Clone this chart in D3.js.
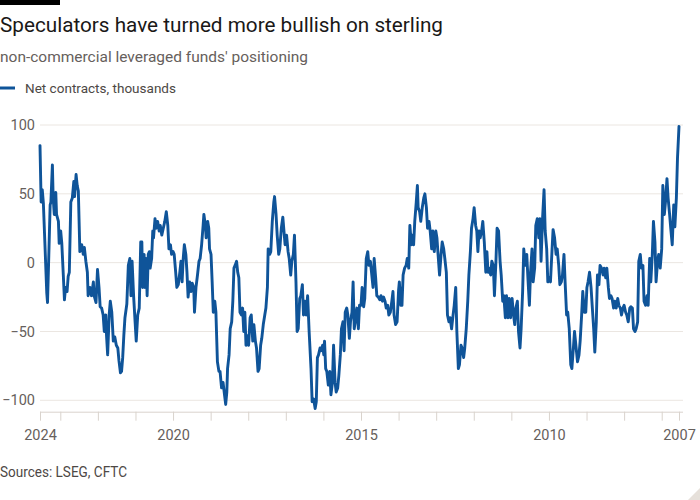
<!DOCTYPE html>
<html>
<head>
<meta charset="utf-8">
<script src="https://cdn.jsdelivr.net/npm/d3@7"></script>
<style>
  html, body { margin: 0; padding: 0; background: #ffffff; }
  svg { display: block; font-family: Roboto, "Noto Sans", sans-serif; }
</style>
</head>
<body>
<svg id="chart" width="700" height="500"></svg>
<script>
// ---- data (decimal years, reversed time axis) ----
const dates = [
  2023.54,2023.51,2023.48,2023.45,2023.36,2023.34,2023.30,2023.27,2023.25,2023.21,
  2023.19,2023.16,2023.12,2023.10,2023.05,2023.03,2022.99,2022.96,2022.92,2022.89,
  2022.86,2022.82,2022.79,2022.76,2022.72,2022.68,2022.64,2022.62,2022.58,2022.55,
  2022.52,2022.48,2022.43,2022.39,2022.36,2022.32,2022.28,2022.26,2022.21,2022.17,
  2022.12,2022.10,2022.05,2022.01,2021.97,2021.94,2021.90,2021.86,2021.83,2021.79,
  2021.77,2021.74,2021.70,2021.67,2021.63,2021.59,2021.55,2021.51,2021.47,2021.44,
  2021.40,2021.37,2021.34,2021.31,2021.28,2021.23,2021.19,2021.15,2021.12,2021.09,
  2021.05,2021.01,2020.98,2020.94,2020.90,2020.86,2020.83,2020.81,2020.77,2020.75,
  2020.72,2020.69,2020.66,2020.63,2020.61,2020.57,2020.54,2020.52,2020.48,2020.45,
  2020.41,2020.37,2020.34,2020.30,2020.26,2020.22,2020.18,2020.14,2020.11,2020.07,
  2020.04,2020.00,2019.97,2019.93,2019.90,2019.86,2019.82,2019.79,2019.76,2019.73,
  2019.70,2019.66,2019.63,2019.60,2019.56,2019.52,2019.49,2019.45,2019.43,2019.39,
  2019.35,2019.31,2019.28,2019.24,2019.20,2019.18,2019.14,2019.12,2019.08,2019.05,
  2019.03,2018.99,2018.96,2018.93,2018.89,2018.86,2018.82,2018.78,2018.75,2018.71,
  2018.67,2018.64,2018.60,2018.57,2018.55,2018.51,2018.48,2018.44,2018.41,2018.38,
  2018.35,2018.31,2018.28,2018.25,2018.22,2018.18,2018.15,2018.12,2018.09,2018.06,
  2018.03,2017.99,2017.95,2017.92,2017.88,2017.85,2017.81,2017.78,2017.74,2017.71,
  2017.67,2017.64,2017.60,2017.56,2017.53,2017.49,2017.47,2017.43,2017.40,2017.36,
  2017.32,2017.30,2017.26,2017.23,2017.19,2017.16,2017.12,2017.08,2017.05,2017.02,
  2016.98,2016.94,2016.91,2016.87,2016.84,2016.80,2016.77,2016.73,2016.70,2016.67,
  2016.63,2016.60,2016.56,2016.53,2016.49,2016.46,2016.42,2016.38,2016.33,2016.30,
  2016.26,2016.22,2016.19,2016.16,2016.13,2016.09,2016.06,2016.02,2015.99,2015.97,
  2015.94,2015.91,2015.87,2015.83,2015.80,2015.76,2015.73,2015.69,2015.66,2015.62,
  2015.59,2015.55,2015.52,2015.48,2015.45,2015.42,2015.38,2015.35,2015.31,2015.28,
  2015.24,2015.21,2015.18,2015.14,2015.11,2015.07,2015.04,2015.00,2014.97,2014.93,
  2014.90,2014.86,2014.82,2014.79,2014.75,2014.72,2014.68,2014.65,2014.61,2014.58,
  2014.54,2014.50,2014.47,2014.43,2014.40,2014.36,2014.33,2014.29,2014.26,2014.22,
  2014.18,2014.15,2014.12,2014.08,2014.04,2014.00,2013.98,2013.94,2013.91,2013.88,
  2013.84,2013.80,2013.77,2013.73,2013.70,2013.66,2013.64,2013.60,2013.57,2013.53,
  2013.50,2013.48,2013.44,2013.41,2013.37,2013.33,2013.30,2013.26,2013.23,2013.19,
  2013.16,2013.12,2013.09,2013.05,2013.01,2012.98,2012.95,2012.91,2012.87,2012.84,
  2012.80,2012.77,2012.73,2012.70,2012.66,2012.63,2012.59,2012.55,2012.52,2012.48,
  2012.45,2012.41,2012.38,2012.34,2012.31,2012.27,2012.24,2012.20,2012.16,2012.13,
  2012.09,2012.06,2012.02,2011.99,2011.95,2011.92,2011.89,2011.86,2011.83,2011.79,
  2011.76,2011.72,2011.68,2011.65,2011.62,2011.59,2011.55,2011.52,2011.48,2011.45,
  2011.41,2011.38,2011.34,2011.30,2011.27,2011.23,2011.20,2011.16,2011.13,2011.09,
  2011.06,2011.02,2010.98,2010.95,2010.91,2010.88,2010.84,2010.81,2010.77,2010.74,
  2010.70,2010.67,2010.63,2010.59,2010.56,2010.52,2010.49,2010.45,2010.42,2010.38,
  2010.35,2010.31,2010.27,2010.24,2010.21,2010.17,2010.13,2010.10,2010.06,2010.03,
  2009.99,2009.96,2009.92,2009.89,2009.85,2009.81,2009.78,2009.74,2009.71,2009.67,
  2009.64,2009.60,2009.57,2009.53,2009.50,2009.46,2009.42,2009.39,2009.35,2009.32,
  2009.28,2009.24,2009.20,2009.17,2009.13,2009.10,2009.06,2009.02,2008.99,2008.96,
  2008.92,2008.88,2008.85,2008.81,2008.78,2008.74,2008.71,2008.67,2008.64,2008.60,
  2008.56,2008.53,2008.49,2008.46,2008.42,2008.39,2008.35,2008.32,2008.28,2008.25,
  2008.21,2008.17,2008.14,2008.10,2008.07,2008.03,2008.00,2007.96,2007.93,2007.89,
  2007.85,2007.82,2007.78,2007.75,2007.71,2007.68,2007.64,2007.61,2007.57,2007.54,
  2007.50,2007.47,2007.43,2007.39,2007.36,2007.32,2007.29,2007.25,2007.22,2007.18,
  2007.15,2007.11,2007.08,2007.04,2007.00,2006.97,2006.93,2006.90,2006.86,2006.83,
  2006.79,2006.76,2006.72,2006.68,2006.65,2006.61,2006.58,2006.54
];
const netContracts = [
  85,44,53,43,-22,-29,11,42,44,71,
  47,35,51,35,30,14,23,14,-9,-27,
  -18,-21,-10,-7,44,47,59,48,64,56,
  52,8,13,6,11,1,-7,-24,-18,-24,
  -14,-24,-29,-5,-18,-32,-33,-38,-50,-38,
  -53,-67,-38,-28,-36,-57,-54,-60,-62,-71,
  -80,-79,-69,-53,-40,-30,-2,3,-24,1,
  -24,-43,-57,-38,-33,15,15,-18,6,-18,
  3,-24,6,8,-4,3,23,18,32,25,
  30,23,27,20,25,30,37,27,10,13,
  6,8,6,-7,-18,-16,-7,1,-14,3,
  13,6,-7,-25,-14,-21,-15,-18,-36,-18,
  -9,1,3,13,27,35,27,18,30,25,
  10,6,-14,-36,-28,-36,-72,-79,-79,-91,
  -87,-94,-103,-94,-77,-67,-48,-43,-28,-4,
  -2,1,-7,-11,-36,-38,-33,-50,-36,-60,
  -53,-60,-40,-38,-57,-45,-57,-62,-79,-77,
  -60,-55,-45,-38,-33,-18,10,6,8,30,
  44,48,35,20,6,10,25,33,23,13,
  20,8,3,-9,1,6,20,-14,-50,-48,
  -26,-24,-16,-38,-28,-38,-24,-50,-77,-101,
  -99,-106,-101,-69,-67,-62,-64,-60,-67,-57,
  -77,-79,-89,-79,-96,-87,-60,-87,-94,-91,
  -82,-67,-48,-43,-64,-36,-33,-38,-55,-43,
  -36,-14,-48,-40,-33,-48,-31,-31,-18,-32,
  -26,3,8,-2,1,-7,-18,3,-11,-24,
  -25,-27,-24,-28,-25,-28,-33,-31,-38,-36,
  -28,-21,-38,-45,-43,-20,-14,-31,-31,-9,
  -4,-2,3,-4,27,13,20,13,30,44,
  56,40,37,30,40,47,50,40,25,30,
  23,10,23,8,23,18,6,-9,6,15,
  10,3,-7,-38,-43,-40,-48,-38,-31,-18,
  -50,-77,-74,-60,-62,-69,-62,-48,-28,-9,
  8,25,32,40,27,23,8,23,18,23,
  30,15,-7,8,-7,-4,-9,1,-2,-24,
  1,25,23,1,-9,-28,-24,-40,-24,-40,
  -26,-40,-26,-36,-45,-33,-28,-50,-62,-48,
  -21,10,-2,6,-11,-31,-7,10,-14,-4,
  27,32,18,32,1,32,53,23,10,-14,
  -11,-14,8,24,18,6,10,-2,-16,-14,
  -9,6,-14,-38,-36,-48,-74,-77,-62,-50,
  -61,-72,-67,-57,-38,-21,-36,-36,-18,-14,
  -7,-18,-31,-48,-65,-43,-9,-16,-2,-4,
  -9,-4,-11,-4,-18,-26,-24,-26,-33,-28,
  -33,-26,-31,-33,-38,-33,-31,-36,-38,-43,
  -33,-32,-33,-48,-50,-48,-43,1,6,-4,
  -2,-28,-31,-24,-31,3,-14,6,30,15,
  -14,1,6,-4,10,56,35,44,61,47,
  35,25,13,42,26,47,76,99
];

const xDomain = [2023.54, 2006.54];
const yTicks = [-100, -50, 0, 50, 100];
const xTickYears = [2023.54, 2023, 2022, 2021, 2020, 2019, 2018, 2017, 2016, 2015,
                    2014, 2013, 2012, 2011, 2010, 2009, 2008, 2007, 2006.54];
const xLabelYears = [2023.54, 2020, 2015, 2010, 2006.54];
const xLabelTexts = ["2024", "2020", "2015", "2010", "2007"];

const title = "Speculators have turned more bullish on sterling";
const subtitle = "non-commercial leveraged funds' positioning";
const legendLabel = "Net contracts, thousands";
const source = "Sources: LSEG, CFTC";

// ---- drawing ----
const svg = d3.select("#chart");
const blue = "#0f5499";
const grey = "#66605c";

const x = d3.scaleLinear().domain(xDomain).range([40, 679]);
const y = d3.scaleLinear().domain([-100, 100]).range([400.3, 125]);

svg.append("rect").attr("x", 0).attr("y", 0).attr("width", 60).attr("height", 5).attr("fill", "#000");

svg.append("text").attr("x", 0).attr("y", 32)
  .attr("font-size", 21).attr("fill", "#1a1817")
  .attr("textLength", 443).attr("lengthAdjust", "spacingAndGlyphs")
  .text(title);

svg.append("text").attr("x", 0).attr("y", 62)
  .attr("font-size", 15.5).attr("fill", grey)
  .attr("textLength", 308).attr("lengthAdjust", "spacingAndGlyphs")
  .text(subtitle);

svg.append("line").attr("x1", 0).attr("x2", 15).attr("y1", 88).attr("y2", 88)
  .attr("stroke", blue).attr("stroke-width", 3);
svg.append("text").attr("x", 25).attr("y", 93)
  .attr("font-size", 13.5).attr("fill", "#4d4845")
  .attr("textLength", 151).attr("lengthAdjust", "spacingAndGlyphs")
  .text(legendLabel);

// gridlines
svg.append("g").selectAll("line").data(yTicks).join("line")
  .attr("x1", 40).attr("x2", 683)
  .attr("y1", d => y(d)).attr("y2", d => y(d))
  .attr("stroke", "#ebe6e1").attr("stroke-width", 1);

// y labels
const yAxis = svg.append("g").attr("transform", "translate(35,0)")
  .call(d3.axisLeft(y).tickValues(yTicks).tickSize(0).tickPadding(0).tickFormat(d3.format("d")));
yAxis.select(".domain").remove();
yAxis.selectAll("text").attr("font-size", 14.5).attr("fill", grey)
  .attr("font-family", 'Roboto, "Noto Sans", sans-serif');

// x axis
const labelFor = d => { const i = xLabelYears.indexOf(d); return i >= 0 ? xLabelTexts[i] : ""; };
const xAxis = svg.append("g").attr("transform", "translate(0,411.7)")
  .call(d3.axisBottom(x).tickValues(xTickYears).tickSize(9).tickSizeOuter(0).tickPadding(9).tickFormat(labelFor));
xAxis.select(".domain").attr("stroke", "#d9d3cd").attr("d", "M40,0.5H683");
xAxis.selectAll(".tick line").attr("stroke", "#d9d3cd");
xAxis.selectAll("text").attr("font-size", 14.5).attr("fill", grey)
  .attr("font-family", 'Roboto, "Noto Sans", sans-serif');

// line
const line = d3.line().x((d, i) => x(dates[i])).y(d => y(d)).curve(d3.curveLinear);
svg.append("path").datum(netContracts)
  .attr("d", line)
  .attr("fill", "none").attr("stroke", blue).attr("stroke-width", 2.9)
  .attr("stroke-linejoin", "round").attr("stroke-linecap", "round");

// source
svg.append("text").attr("x", 0).attr("y", 477)
  .attr("font-size", 14).attr("fill", "#4d4845")
  .attr("textLength", 127).attr("lengthAdjust", "spacingAndGlyphs")
  .text(source);

// corner mark
svg.append("path").attr("d", "M700,488L700,500L688,500Z").attr("fill", "#e6e0da");
</script>
</body>
</html>
